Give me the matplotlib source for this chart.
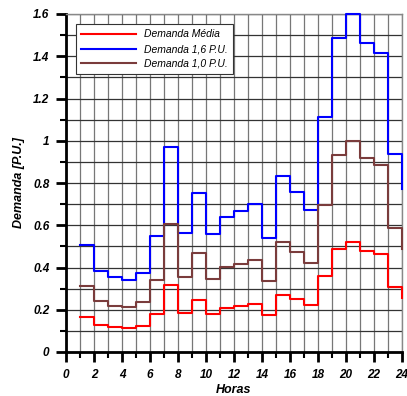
import matplotlib
matplotlib.use("Agg")
import matplotlib.pyplot as plt
from matplotlib.ticker import MultipleLocator, FuncFormatter

hours = list(range(1, 25))
demanda_media = [0.167, 0.128, 0.117, 0.114, 0.123, 0.178, 0.317, 0.185, 0.246, 0.181,
                 0.210, 0.218, 0.227, 0.177, 0.270, 0.251, 0.221, 0.361, 0.486, 0.521,
                 0.480, 0.464, 0.306, 0.254]
demanda_16 = [0.506, 0.383, 0.353, 0.341, 0.374, 0.548, 0.970, 0.565, 0.754, 0.557,
              0.641, 0.667, 0.699, 0.538, 0.832, 0.757, 0.674, 1.112, 1.488, 1.600,
              1.464, 1.415, 0.937, 0.773]
demanda_10 = [0.314, 0.243, 0.219, 0.215, 0.235, 0.342, 0.606, 0.353, 0.470, 0.347,
              0.401, 0.418, 0.437, 0.338, 0.521, 0.473, 0.423, 0.696, 0.933, 0.999,
              0.917, 0.885, 0.587, 0.486]
labels = ["Demanda Média", "Demanda 1,6 P.U.", "Demanda 1,0 P.U."]

plt.rcParams['font.family'] = ['Liberation Sans', 'DejaVu Sans']

fig = plt.figure(figsize=(4.07, 3.96), dpi=100)
ax = fig.add_axes([66/407, 44/396, 336/407, 338/396])

ax.step(hours, demanda_media, where='post', color='#ff0000', lw=1.5, label=labels[0], clip_on=False, zorder=3)
ax.step(hours, demanda_16, where='post', color='#0000ff', lw=1.5, label=labels[1], clip_on=False, zorder=3)
ax.step(hours, demanda_10, where='post', color='#7a3c3c', lw=1.5, label=labels[2], clip_on=False, zorder=3)

ax.set_xlim(0, 24)
ax.set_ylim(0, 1.6)
ax.xaxis.set_major_locator(MultipleLocator(2))
ax.xaxis.set_minor_locator(MultipleLocator(1))
ax.yaxis.set_major_locator(MultipleLocator(0.2))
ax.yaxis.set_minor_locator(MultipleLocator(0.1))
ax.yaxis.set_major_formatter(FuncFormatter(lambda v, p: f"{v:g}"))

ax.grid(True, which='both', axis='x', color='#777777', lw=0.9)
ax.grid(True, which='both', axis='y', color='#333333', lw=0.9)
ax.set_axisbelow(True)

for s in ['top', 'right']:
    ax.spines[s].set_color('#888888')
    ax.spines[s].set_linewidth(1.0)
for s in ['left', 'bottom']:
    ax.spines[s].set_color('black')
    ax.spines[s].set_linewidth(2.0)

ax.tick_params(which='major', direction='out', length=7, width=2, color='black',
               labelsize=8.5)
ax.tick_params(axis='y', which='major', pad=5)
ax.tick_params(axis='x', which='major', pad=5)
ax.tick_params(which='minor', direction='out', length=4, width=1.5, color='black')
for lab in ax.get_xticklabels() + ax.get_yticklabels():
    lab.set_fontweight('bold')
    lab.set_fontstyle('italic')

ax.set_xlabel('Horas', fontsize=9, fontweight='bold', fontstyle='italic', labelpad=2.5)
ax.set_ylabel('Demanda [P.U.]', fontsize=9, fontweight='bold', fontstyle='italic', labelpad=6)

leg = ax.legend(loc='upper left', bbox_to_anchor=(0.015, 0.985), fancybox=False,
                framealpha=1, edgecolor='#333333', prop={'style': 'italic', 'size': 7.5},
                handlelength=5.2, borderpad=0.5, labelspacing=0.45)
leg.get_frame().set_linewidth(0.8)
leg.set_zorder(5)

fig.savefig('out.png', dpi=100)
